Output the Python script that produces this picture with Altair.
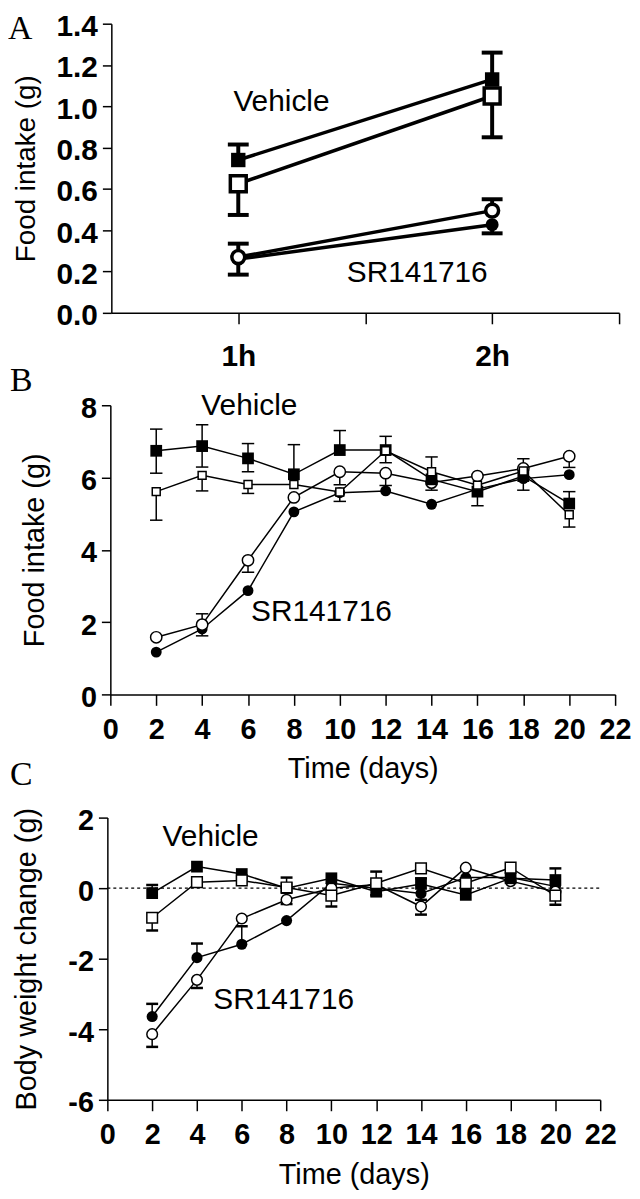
import altair as alt
import pandas as pd

FONT = "Liberation Sans"
SERIF = "Liberation Serif"

# ---------------- Panel A data ----------------
A_LABELS = ["1h", "2h"]
A_POS = [1, 3]
A_YTICKS = [0.0, 0.2, 0.4, 0.6, 0.8, 1.0, 1.2, 1.4]
A_VEH_FILLED = [0.74, 1.13]
A_VEH_FILLED_HI = [0.815, 1.26]
A_VEH_OPEN = [0.625, 1.05]
A_VEH_OPEN_LO = [0.474, 0.85]
A_SR_OPEN = [0.27, 0.495]
A_SR_OPEN_HI = [0.335, 0.55]
A_SR_FILLED = [0.26, 0.427]
A_SR_FILLED_LO = [0.185, 0.385]

# ---------------- Panel B data ----------------
DAYS = [2, 4, 6, 8, 10, 12, 14, 16, 18, 20]
DAY_TICKS = [0, 2, 4, 6, 8, 10, 12, 14, 16, 18, 20, 22]
B_YTICKS = [0, 2, 4, 6, 8]
B_VEH_FILLED = [6.74, 6.87, 6.53, 6.09, 6.76, 6.76, 5.95, 5.61, 6.04, 5.28]
B_VEH_FILLED_HI = [7.34, 7.46, 6.94, 6.91, 7.30, 7.14, None, None, None, 5.61]
B_VEH_FILLED_LO = [6.12, 6.29, 6.16, None, None, None, None, 5.22, None, None]
B_VEH_OPEN = [5.61, 6.06, 5.81, 5.81, 5.60, 6.74, 6.16, 5.79, 6.18, 4.97]
B_VEH_OPEN_HI = [None, None, None, None, None, None, 6.57, None, None, None]
B_VEH_OPEN_LO = [4.82, 5.63, 5.56, None, 5.34, 6.41, None, None, None, 4.63]
B_SR_OPEN = [1.58, 1.93, 3.71, 5.45, 6.16, 6.12, 5.86, 6.04, 6.25, 6.59]
B_SR_OPEN_HI = [None, 2.23, None, None, None, None, None, None, 6.52, None]
B_SR_OPEN_LO = [None, None, 3.38, None, 5.80, 5.78, 5.65, None, None, 6.28]
B_SR_FILLED = [1.17, 1.81, 2.87, 5.05, 5.58, 5.63, 5.26, 5.68, 5.97, 6.08]
B_SR_FILLED_LO = [None, 1.62, None, None, None, None, None, None, 5.65, None]

# ---------------- Panel C data ----------------
C_YTICKS = [-6, -4, -2, 0, 2]
C_ZERO = [0]
C_VEH_FILLED = [-0.14, 0.61, 0.40, 0.0, 0.28, -0.10, 0.12, -0.19, 0.28, 0.23]
C_VEH_FILLED_HI = [0.09, None, None, None, None, None, 0.28, None, None, 0.56]
C_VEH_FILLED_LO = [None, None, None, -0.45, None, -0.20, None, None, None, None]
C_VEH_OPEN = [-0.84, 0.17, 0.22, 0.02, -0.21, 0.14, 0.56, 0.14, 0.58, -0.21]
C_VEH_OPEN_HI = [None, None, None, 0.30, None, 0.47, None, None, None, None]
C_VEH_OPEN_LO = [-1.20, None, None, None, -0.52, None, None, None, None, -0.47]
C_SR_OPEN = [-4.14, -2.60, -0.86, -0.33, 0.0, 0.10, -0.52, 0.58, 0.20, -0.10]
C_SR_OPEN_LO = [-4.50, -2.83, None, None, None, None, -0.75, None, None, None]
C_SR_FILLED = [-3.64, -1.97, -1.59, -0.92, 0.14, 0.0, -0.15, 0.30, 0.30, 0.05]
C_SR_FILLED_HI = [-3.28, -1.57, -1.08, None, None, None, None, None, None, None]
C_SR_FILLED_LO = [None, None, None, None, None, None, -0.33, None, None, None]

# annotation labels (text, x, y in data units)
A_TEXT = [("Vehicle", 1.34, 1.02), ("SR141716", 2.41, 0.195)]
B_TEXT = [("Vehicle", 6.06, 7.97), ("SR141716", 9.2, 2.28)]
C_TEXT = [("Vehicle", 4.61, 1.46), ("SR141716", 7.87, -3.18)]

SERIES_ORDER = ["sr_filled", "sr_open", "veh_filled", "veh_open"]
SHAPES = {"sr_filled": ("circle", True), "sr_open": ("circle", False),
          "veh_filled": ("square", True), "veh_open": ("square", False)}


def tables(xs, series):
    pts, errs = [], []
    for name in SERIES_ORDER:
        vals, bars = series[name]
        for i, (x, v) in enumerate(zip(xs, vals)):
            pts.append(dict(series=name, x=x, y=v))
            for b in bars:
                if b[i] is not None:
                    errs.append(dict(series=name, x=x, y=b[i], y0=v))
    return pd.DataFrame(pts), pd.DataFrame(errs)


def panel(xs, series, texts, letter, lpos, xenc, yenc, W, H, st, extra=None):
    pts, errs = tables(xs, series)
    layers = []
    if extra is not None:
        layers.append(extra)
    layers.append(alt.Chart(pts).mark_line(color="black", strokeWidth=st["lw"]).encode(
        x=xenc, y=yenc, detail="series:N"))
    layers.append(alt.Chart(errs).mark_rule(color="black", strokeWidth=st["ew"]).encode(
        x=xenc, y=yenc, y2="y0:Q"))
    layers.append(alt.Chart(errs).mark_tick(orient="horizontal", color="black", size=st["cap"],
                                            thickness=st["capw"], opacity=1).encode(x=xenc, y=yenc))
    for name in SERIES_ORDER:
        shape, filled = SHAPES[name]
        sub = pts[pts.series == name]
        if filled:
            m = alt.Chart(sub).mark_point(shape=shape, filled=True, fill="black", stroke="black",
                                          strokeWidth=0, size=st[name], opacity=1)
        else:
            m = alt.Chart(sub).mark_point(shape=shape, filled=True, fill="white", stroke="black",
                                          strokeWidth=st["msw"], size=st[name], opacity=1)
        layers.append(m.encode(x=xenc, y=yenc))
    tdf = pd.DataFrame(texts, columns=["label", "x", "y"])
    layers.append(alt.Chart(tdf).mark_text(font=FONT, fontSize=30, color="black", align="center",
                                           baseline="middle").encode(x=xenc, y=yenc, text="label:N"))
    ldf = pd.DataFrame({"label": [letter]})
    layers.append(alt.Chart(ldf).mark_text(font=SERIF, fontSize=34, color="black", align="left",
                                           baseline="alphabetic").encode(
        x=alt.value(lpos[0]), y=alt.value(lpos[1]), text="label:N"))
    return alt.layer(*layers).properties(width=W, height=H)


W = 515
YAX = dict(tickSize=9, labelPadding=5, labelOffset=3, labelFlush=False, labelOverlap=False,
           titleBaseline="bottom")
XAX = dict(values=DAY_TICKS, tickSize=11, labelPadding=10, labelFontSize=29, title="Time (days)",
           titleY=61, titleBaseline="top", titleFontSize=29, labelFlush=False, labelOverlap=False)

# ---------------- Panel A ----------------
A_H = 291
a_label_expr = " : ".join(
    [f"datum.value == {p} ? '{l}'" for p, l in zip(A_POS, A_LABELS)]) + " : ''"
xA = alt.X("x:Q", scale=alt.Scale(domain=[0, 4], range=[4, W], nice=False, zero=False),
           axis=alt.Axis(values=[1, 2, 3, 4], labelExpr=a_label_expr, tickSize=11, labelPadding=18,
                         labelFontSize=30, title=None, labelFlush=False, labelOverlap=False))
yA = alt.Y("y:Q", scale=alt.Scale(domain=[0, 1.4], range=[A_H, 0], nice=False, zero=False),
           axis=alt.Axis(values=A_YTICKS, format=".1f", title="Food intake (g)", titleX=-71,
                         titleFontSize=28, offset=-4, labelFontSize=30, **YAX))
stA = dict(lw=3.5, ew=4, cap=21, capw=4, msw=3.5,
           veh_filled=210, veh_open=256, sr_open=169, sr_filled=169)
seriesA = {
    "veh_filled": (A_VEH_FILLED, [A_VEH_FILLED_HI]),
    "veh_open": (A_VEH_OPEN, [A_VEH_OPEN_LO]),
    "sr_open": (A_SR_OPEN, [A_SR_OPEN_HI]),
    "sr_filled": (A_SR_FILLED, [A_SR_FILLED_LO]),
}
chartA = panel(A_POS, seriesA, A_TEXT, "A", (-100, 15), xA, yA, W, A_H, stA)

# ---------------- Panel B ----------------
B_H = 384
xB = alt.X("x:Q", scale=alt.Scale(domain=[0, 22], range=[3, 511], nice=False, zero=False),
           axis=alt.Axis(**XAX))
yB = alt.Y("y:Q", scale=alt.Scale(domain=[0, 8], range=[B_H, 93], nice=False, zero=False),
           axis=alt.Axis(values=B_YTICKS, labelExpr="'' + datum.value", title="Food intake (g)",
                         titleX=-61, titleFontSize=29, offset=-3, labelFontSize=29, **YAX))
stB = dict(lw=1.5, ew=1.5, cap=12.5, capw=1.5, msw=1.5,
           veh_filled=140, veh_open=64, sr_open=130, sr_filled=120)
seriesB = {
    "veh_filled": (B_VEH_FILLED, [B_VEH_FILLED_HI, B_VEH_FILLED_LO]),
    "veh_open": (B_VEH_OPEN, [B_VEH_OPEN_HI, B_VEH_OPEN_LO]),
    "sr_open": (B_SR_OPEN, [B_SR_OPEN_HI, B_SR_OPEN_LO]),
    "sr_filled": (B_SR_FILLED, [B_SR_FILLED_LO]),
}
chartB = panel(DAYS, seriesB, B_TEXT, "B", (-98, 79), xB, yB, W, B_H, stB)

# ---------------- Panel C ----------------
C_H = 408
xC = alt.X("x:Q", scale=alt.Scale(domain=[0, 22], range=[0, 496], nice=False, zero=False),
           axis=alt.Axis(**XAX))
yC = alt.Y("y:Q", scale=alt.Scale(domain=[-6, 2], range=[C_H, 124], nice=False, zero=False),
           axis=alt.Axis(values=C_YTICKS, labelExpr="'' + datum.value",
                         title="Body weight change (g)", titleX=-66, titleFontSize=29,
                         labelFontSize=29, **YAX))
stC = dict(lw=1.5, ew=1.5, cap=12, capw=2.5, msw=1.5,
           veh_filled=140, veh_open=115, sr_open=115, sr_filled=125)
seriesC = {
    "veh_filled": (C_VEH_FILLED, [C_VEH_FILLED_HI, C_VEH_FILLED_LO]),
    "veh_open": (C_VEH_OPEN, [C_VEH_OPEN_HI, C_VEH_OPEN_LO]),
    "sr_open": (C_SR_OPEN, [C_SR_OPEN_LO]),
    "sr_filled": (C_SR_FILLED, [C_SR_FILLED_HI, C_SR_FILLED_LO]),
}
zero_df = pd.DataFrame({"x": [DAY_TICKS[0]], "x2": [DAY_TICKS[-1]], "y": C_ZERO})
zero_line = alt.Chart(zero_df).mark_rule(color="black", strokeWidth=1.3, strokeDash=[3, 3]).encode(
    x=xC, x2="x2:Q", y=yC)
chartC = panel(DAYS, seriesC, C_TEXT, "C", (-98, 91), xC, yC, W, C_H, stC, extra=zero_line)

chart = alt.vconcat(chartA, chartB, chartC, spacing=0, bounds="flush", padding=0).configure_view(
    stroke=None
).configure_axis(
    labelFont=FONT, labelFontWeight="bold", labelColor="black",
    titleFont=FONT, titleFontWeight="normal", titleColor="black",
    domainColor="black", tickColor="black", domainWidth=1.5, tickWidth=1.5, grid=False
)

chart.save("out.html", embed_options={"renderer": "svg", "actions": False})
